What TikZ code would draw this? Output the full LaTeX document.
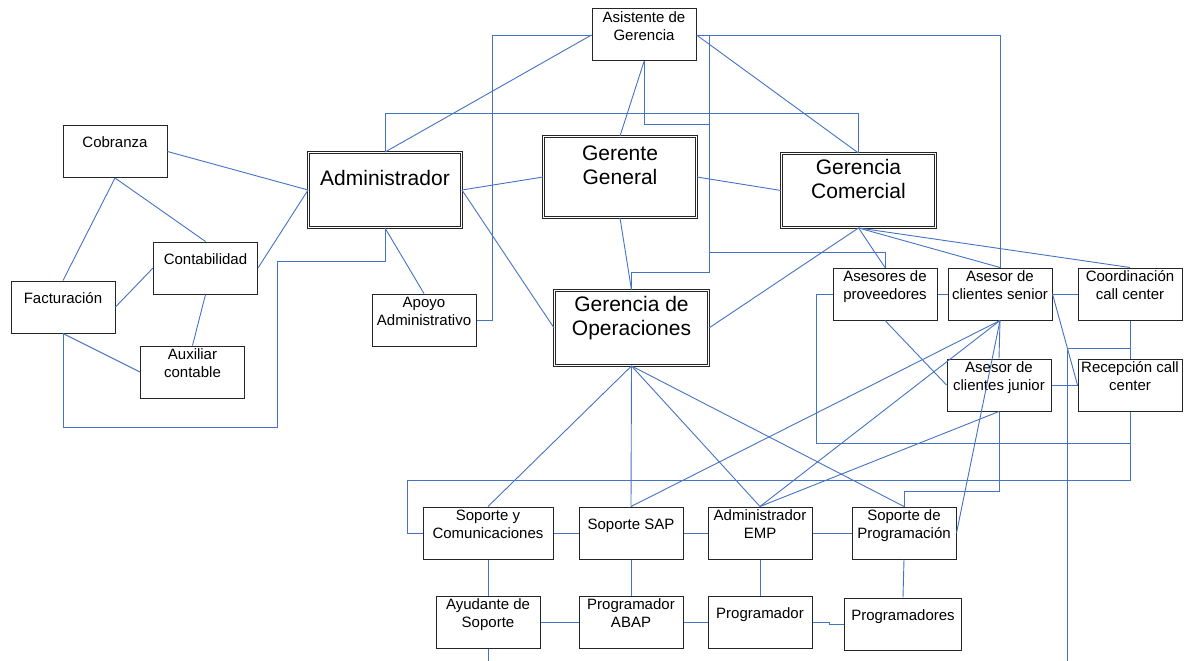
\documentclass[tikz,border=0pt]{standalone}
\usepackage{fontspec}
\setmainfont{Liberation Sans}
\definecolor{linkblue}{RGB}{68,114,196}

\begin{document}
\begin{tikzpicture}[x=1pt, y=-1pt,
    box/.style={draw=black!85, line width=1pt, fill=white, inner sep=0pt, align=center,
                minimum width=104pt, minimum height=52pt, font=\fontsize{15}{18}\selectfont},
    bigbox/.style={draw=black!85, double, double distance=1.6pt, line width=0.9pt, fill=white,
                inner sep=0pt, align=center, minimum width=153pt, minimum height=75pt,
                font=\fontsize{21}{24}\selectfont},
    link/.style={draw=linkblue, line width=0.9pt}]
    \useasboundingbox (0,0) rectangle (1184,661);

    \node[box] (asist) at (644,35) {Asistente de\\Gerencia\\\mbox{}};
    \node[box] (cobr) at (115,151.5) {Cobranza\\\mbox{}};
    \node[box] (fact) at (63,307) {Facturación\\\mbox{}};
    \node[box] (conta) at (205.5,268) {Contabilidad\\\mbox{}};
    \node[box] (aux) at (192.5,372) {Auxiliar\\contable\\\mbox{}};
    \node[bigbox] (admin) at (385,190) {Administrador\\\mbox{}};
    \node[bigbox, minimum height=81pt] (gg) at (620,177) {Gerente\\General\\\mbox{}};
    \node[bigbox, minimum width=154pt, minimum height=74pt] (comer) at (858.5,190.5) {Gerencia\\Comercial\\\mbox{}};
    \node[box] (apoyo) at (424,320) {Apoyo\\Administrativo\\\mbox{}};
    \node[bigbox, minimum width=154pt] (ops) at (631.5,328) {Gerencia de\\Operaciones\\\mbox{}};
    \node[box] (prov) at (885,294) {Asesores de\\proveedores\\\mbox{}};
    \node[box] (senior) at (1000,294) {Asesor de\\clientes senior\\\mbox{}};
    \node[box] (coord) at (1130,294) {Coordinación\\call center\\\mbox{}};
    \node[box] (junior) at (999,385) {Asesor de\\clientes junior\\\mbox{}};
    \node[box] (recep) at (1130,385) {Recepción call\\center\\\mbox{}};
    \node[box, minimum width=130pt] (syc) at (488,533) {Soporte y\\Comunicaciones\\\mbox{}};
    \node[box] (sap) at (631,533) {Soporte SAP\\\mbox{}};
    \node[box] (emp) at (760,533) {Administrador\\EMP\\\mbox{}};
    \node[box] (sprog) at (904,533) {Soporte de\\Programación\\\mbox{}};
    \node[box] (ayud) at (488,622) {Ayudante de\\Soporte\\\mbox{}};
    \node[box] (abap) at (631,622) {Programador\\ABAP\\\mbox{}};
    \node[box] (progr) at (760,622) {Programador\\\mbox{}};
    \node[box, minimum width=117pt] (progs) at (903,624) {Programadores\\\mbox{}};
    \coordinate (offA) at (488,661);
    \coordinate (offB) at (1067,661);

    % administracion
    \draw[link] (cobr.east) -- (admin.west);
    \draw[link] (conta.east) -- (admin.west);
    \draw[link] (cobr.south) -- (fact.north);
    \draw[link] (cobr.south) -- (conta.north);
    \draw[link] (fact.east) -- (conta.west);
    \draw[link] (conta.south) -- (aux.north);
    \draw[link] (fact.south) -- (aux.west);
    \draw[link] (fact.south) -- ++(0,94) -| (277,261) -| (admin.south);
    \draw[link] (admin.east) -- (gg.west);
    \draw[link] (admin.east) -- (ops.west);
    \draw[link] (admin.south) -- (apoyo.north);
    \draw[link] (admin.north) |- (858.5,113) -- (comer.north);

    % asistente y gerencias
    \draw[link] (asist.west) -- (admin.north);
    \draw[link] (asist.west) -| (492,320) -- (apoyo.east);
    \draw[link] (asist.south) -- (gg.north);
    \draw[link] (asist.south) |- (709,124) |- (631.5,272) -- (ops.north);
    \draw[link] (asist.east) -| (709,252) -| (prov.north);
    \draw[link] (asist.east) -- (comer.north);
    \draw[link] (asist.east) -| (senior.north);
    \draw[link] (gg.east) -- (comer.west);
    \draw[link] (gg.south) -- (ops.north);

    % comercial
    \draw[link] (comer.south) -- (ops.east);
    \draw[link] (comer.south) -- (prov.north);
    \draw[link] (comer.south) -- (senior.north);
    \draw[link] (comer.south) -- (coord.north);
    \draw[link] (prov.east) -- (senior.west);
    \draw[link] (senior.east) -- (coord.west);
    \draw[link] (prov.west) -- ++(-16,0) |- (1130,443) -- (recep.south);
    \draw[link] (prov.south) -- (junior.west);
    \draw[link] (senior.south) -- (junior.north);
    \draw[link] (senior.south) -- (sap.north);
    \draw[link] (senior.south) -- (emp.north);
    \draw[link] (senior.south) -- (sprog.east);
    \draw[link] (senior.east) -- (recep.west);
    \draw[link] (coord.south) -- (recep.north);
    \draw[link] (coord.south) -- ++(0,28) -| (offB);
    \draw[link] (junior.east) -- (recep.west);
    \draw[link] (junior.south) -- (emp.north);
    \draw[link] (junior.south) -- ++(0,80) -| (sprog.north);
    \draw[link] (recep.south) |- (407,480) |- (syc.west);

    % operaciones
    \draw[link] (ops.south) -- (syc.north);
    \draw[link] (ops.south) -- (sap.north);
    \draw[link] (ops.south) -- (emp.north);
    \draw[link] (ops.south) -- (sprog.north);
    \draw[link] (syc.east) -- (sap.west);
    \draw[link] (sap.east) -- (emp.west);
    \draw[link] (emp.east) -- (sprog.west);
    \draw[link] (syc.south) -- (ayud.north);
    \draw[link] (sap.south) -- (abap.north);
    \draw[link] (emp.south) -- (progr.north);
    \draw[link] (sprog.south) -- (progs.north);
    \draw[link] (ayud.east) -- (abap.west);
    \draw[link] (abap.east) -- (progr.west);
    \draw[link] (progr.east) -- ++(17,0) |- (progs.west);
    \draw[link] (ayud.south) -- (offA);
\end{tikzpicture}
\end{document}
